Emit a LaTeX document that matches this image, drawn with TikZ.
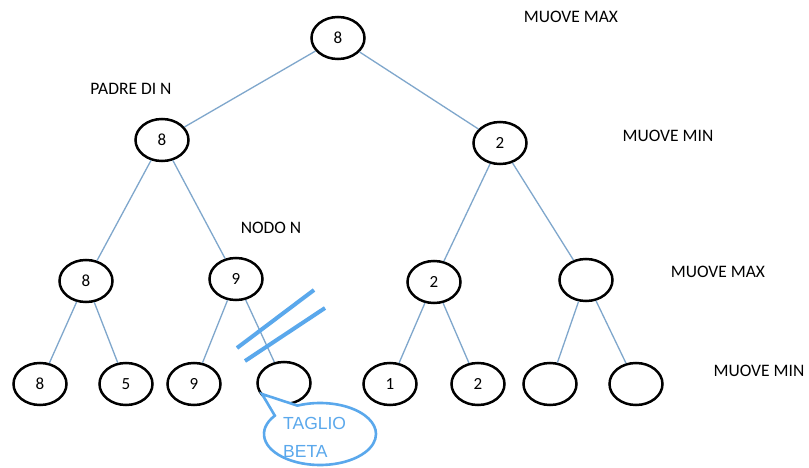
\documentclass[tikz,border=0pt]{standalone}
\usepackage{fontspec}
\setmainfont{Carlito}
\newfontfamily\helv{Liberation Sans}
\usetikzlibrary{shapes.geometric,shapes.callouts}
\definecolor{edgeblue}{HTML}{7FA7CC}
\definecolor{cutblue}{HTML}{5AA8EC}
\tikzset{
  tnode/.style={ellipse, draw=black, line width=2.5pt, fill=white,
    minimum width=53pt, minimum height=42pt, inner sep=0pt,
    font=\fontsize{17}{19}\selectfont},
  lbl/.style={font=\fontsize{17.5}{19}\selectfont, inner sep=0pt},
  edge/.style={draw=edgeblue, line width=1.3pt},
  cut/.style={draw=cutblue, line width=4pt},
}
\begin{document}
\begin{tikzpicture}[x=1pt,y=-1pt]
\useasboundingbox[fill=white] (0,0) rectangle (809,468);

% tree nodes
\node[tnode] (r) at (338,38) {8};
\node[tnode] (a) at (162,140) {8};
\node[tnode] (b) at (500,143) {2};
\node[tnode] (aa) at (86,281) {8};
\node[tnode] (ab) at (236,279) {9};
\node[tnode] (ba) at (434,282) {2};
\node[tnode] (bb) at (586,280) {};
\node[tnode] (aaa) at (40,384) {8};
\node[tnode] (aab) at (126,384) {5};
\node[tnode] (aba) at (194,384) {9};
\node[tnode] (abb) at (284,383) {};
\node[tnode] (baa) at (390,384) {1};
\node[tnode] (bab) at (478,384) {2};
\node[tnode] (bba) at (550,384) {};
\node[tnode] (bbb) at (636,384) {};

% edges
\foreach \p/\c in {r/a, r/b, a/aa, a/ab, b/ba, b/bb,
                   aa/aaa, aa/aab, ab/aba, ab/abb,
                   ba/baa, ba/bab, bb/bba, bb/bbb}
  \draw[edge] (\p) -- (\c);

% level labels
\node[lbl] (l0) at (571,17) {MUOVE MAX};
\node[lbl] (l1) at (668,136) {MUOVE MIN};
\node[lbl] (l2) at (718,272) {MUOVE MAX};
\node[lbl] (l3) at (759,371) {MUOVE MIN};
\node[lbl] (padre) at (131,89) {PADRE DI N};
\node[lbl] (nodon) at (271,228) {NODO N};

% cut marks across the pruned edge
\coordinate (c1s) at (237,348);
\coordinate (c1e) at (314,290);
\coordinate (c2s) at (245,361);
\coordinate (c2e) at (325,308);
\draw[cut] (c1s) -- (c1e);
\draw[cut] (c2s) -- (c2e);

% callout
\coordinate (tip) at (262,394);
\node[ellipse callout, draw=cutblue, line width=2.6pt, fill=white,
      minimum width=112pt, minimum height=62pt,
      callout absolute pointer={(tip)}, callout pointer arc=30] (call) at (320,434) {};
\node[font=\helv\fontsize{17.5}{28}\selectfont, text=cutblue, align=left,
      anchor=west, inner sep=0pt] (callt) at (283,437) {TAGLIO\\BETA};
\end{tikzpicture}
\end{document}
